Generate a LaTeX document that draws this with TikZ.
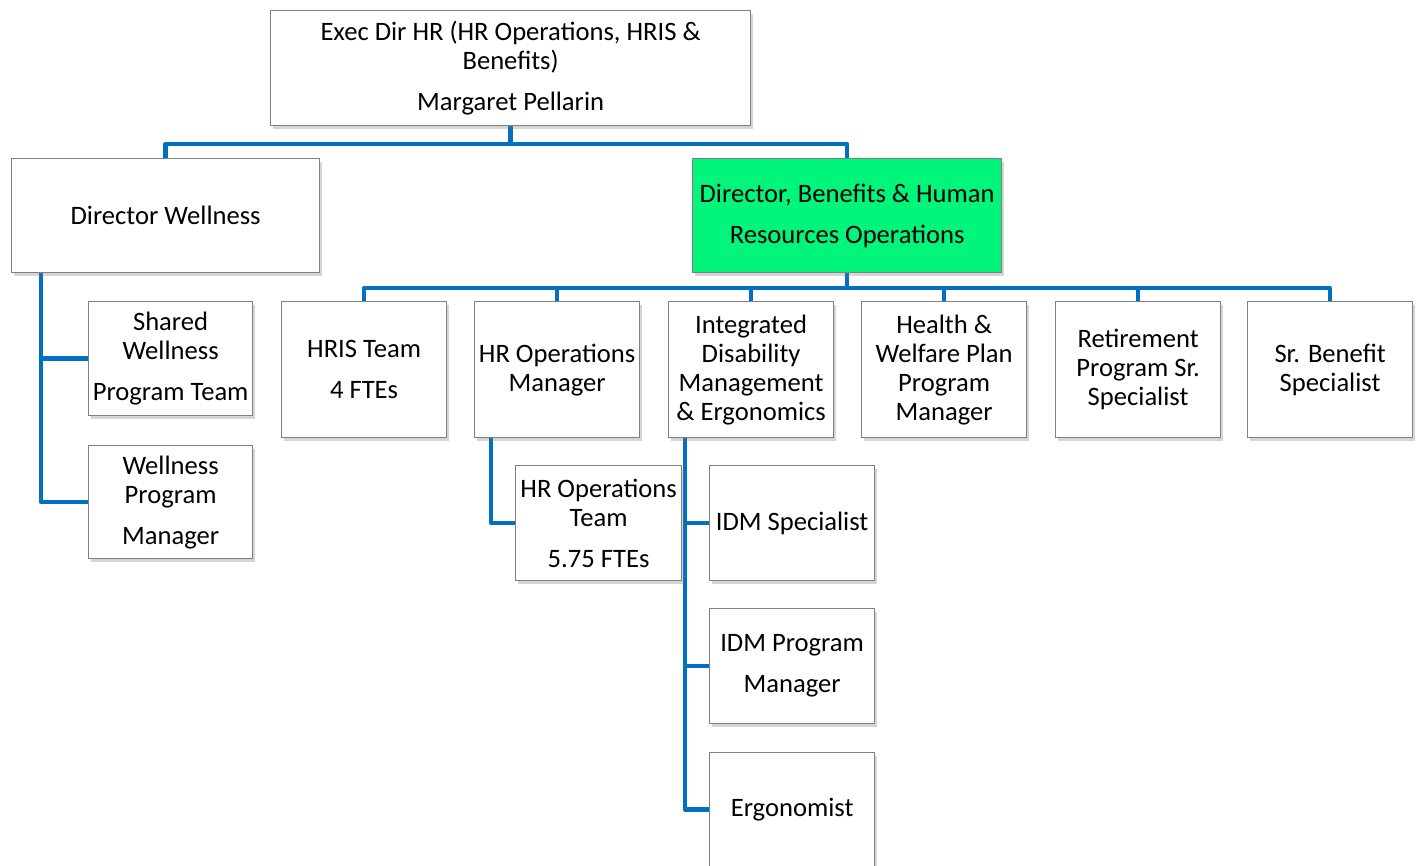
\documentclass[tikz,border=0pt]{standalone}
\usepackage{fontspec}
\setmainfont{Carlito}
\usetikzlibrary{shadows,backgrounds,calc}
\definecolor{conn}{RGB}{0,112,192}
\definecolor{grn}{RGB}{0,245,122}
\definecolor{bord}{RGB}{128,128,128}
\begin{document}
\begin{tikzpicture}[x=1pt,y=-1pt,
  box/.style={draw=bord, line width=1.2pt, fill=white, inner sep=0pt, anchor=north west,
    align=center, font=\fontsize{26.6}{29}\selectfont,
    drop shadow={shadow xshift=2pt, shadow yshift=-3pt, opacity=0.3, fill=black!55}},
  link/.style={draw=conn, line width=4.5pt, line join=round}]
\useasboundingbox (0,0) rectangle (1422,865);
\node[box, minimum width=480pt, minimum height=115pt] (top) at (270,10)
  {Exec Dir HR (HR Operations, HRIS \&\\Benefits)\\[12pt]Margaret Pellarin};
\node[box, minimum width=308pt, minimum height=114pt] (dw) at (11,158) {Director Wellness};
\node[box, fill=grn, minimum width=309pt, minimum height=114pt] (db) at (692,158)
  {Director, Benefits \& Human\\[12pt]Resources Operations};
\node[box, minimum width=165pt, minimum height=136pt] (hris) at (281,301) {HRIS Team\\[12pt]4 FTEs};
\node[box, minimum width=165pt, minimum height=136pt] (hrm) at (474,301) {HR Operations\\Manager};
\node[box, minimum width=165pt, minimum height=136pt] (idme) at (668,301)
  {Integrated\\Disability\\Management\\\& Ergonomics};
\node[box, minimum width=165pt, minimum height=136pt] (hw) at (861,301)
  {Health \&\\Welfare Plan\\Program\\Manager};
\node[box, minimum width=165pt, minimum height=136pt] (ret) at (1055,301)
  {Retirement\\Program Sr.\\Specialist};
\node[box, minimum width=165pt, minimum height=136pt] (sbs) at (1247,301) {Sr. Benefit\\Specialist};
\node[box, minimum width=164pt, minimum height=114pt] (sw) at (88,301)
  {Shared\\Wellness\\[12pt]Program Team};
\node[box, minimum width=164pt, minimum height=113pt] (wpm) at (88,445)
  {Wellness\\Program\\[12pt]Manager};
\node[box, minimum width=166pt, minimum height=115pt] (hrt) at (515,465)
  {HR Operations\\Team\\[12pt]5.75 FTEs};
\node[box, minimum width=165pt, minimum height=115pt] (idms) at (709,465) {IDM Specialist};
\node[box, minimum width=165pt, minimum height=115pt] (idmp) at (709,608) {IDM Program\\[12pt]Manager};
\node[box, minimum width=165pt, minimum height=114pt] (erg) at (709,752) {Ergonomist};
\begin{scope}[on background layer]
  \draw[link] (top.south) -- ++(0,18) coordinate (j1);
  \draw[link] (j1) -| (dw.north);
  \draw[link] (j1) -| (db.north);
  \draw[link] (db.south) -- ++(0,15) coordinate (j2);
  \foreach \c in {hris,hrm,idme,hw,ret,sbs} { \draw[link] (j2) -| (\c.north); }
  \coordinate (v1) at ($(dw.south west)+(30,0)$);
  \draw[link] (v1) |- (wpm.west);
  \draw[link] (v1 |- sw.west) -- (sw.west);
  \coordinate (v2) at ($(hrm.south west)+(17,0)$);
  \draw[link] (v2) |- (hrt.west);
  \coordinate (v3) at ($(idme.south west)+(17,0)$);
  \draw[link] (v3) |- (erg.west);
  \draw[link] (v3 |- idms.west) -- (idms.west);
  \draw[link] (v3 |- idmp.west) -- (idmp.west);
\end{scope}
\end{tikzpicture}
\end{document}
